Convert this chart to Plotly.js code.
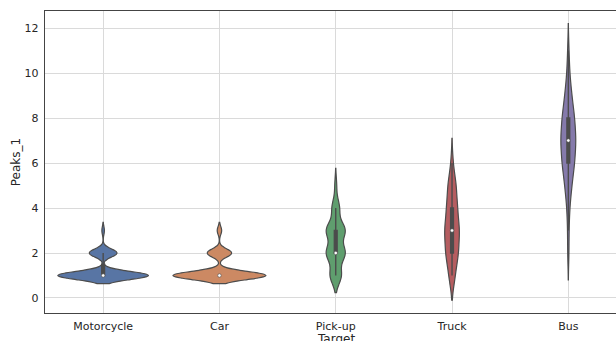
<!DOCTYPE html>
<html>
<head>
<meta charset="utf-8">
<script src="https://cdn.plot.ly/plotly-3.0.1.min.js"></script>
<style>html,body{margin:0;padding:0;background:#fff;}#chart{width:616px;height:341px;}</style>
</head>
<body>
<div id="chart"></div>
<script>
// ---- data (sample values) ----
const categories = ["Motorcycle", "Car", "Pick-up", "Truck", "Bus"];
const motorcycle = [1,1,1,1,1,1,1,1,1,1,1,1,1,1,1,1,1,1,1,1,1,1,1,1,1,1,1,1,1,1,1,1,1,1,1,1,
                    2,2,2,2,2,2,2,2,2,2,2, 3];
const car = [1,1,1,1,1,1,1,1,1,1,1,1,1,1,1,1,1,1,1,1,1,1,1,1,1,1,1,1,1,1,1,1,1,1,1,1,1,1,1,1,1,1,
             2,2,2,2,2,2,2,2,2,2,2, 3,3];
const pickup = [1,1,1,1,1,1, 2,2,2,2,2,2,2,2,2,2, 3,3,3,3,3,3,3,3,3,3, 4,4,4,4, 5];
const truck = [1,1,1, 2,2,2,2,2,2, 3,3,3,3,3,3,3, 4,4,4,4,4, 5,5,5,5, 6];
const bus = [2, 3, 4,4, 5,5,5,5,5, 6,6,6,6,6,6,6,6,6, 7,7,7,7,7,7,7,7,7,7,7,
             8,8,8,8,8,8,8,8,8, 9,9,9,9,9, 10,10, 11];
const seriesValues = [motorcycle, car, pickup, truck, bus];
const bandwidths = [0.18, 0.18, 0.38, 0.55, 0.6];
const xTitle = "Target";
const yTitle = "Peaks_1";

// ---- styles ----
const fillColors = ["#5875a4", "#cc8963", "#5f9e6e", "#b55d60", "#857aab"];
const violinWidths = [0.78, 0.80, 0.165, 0.126, 0.128];
const gray = "#4c4c4c";
const W = 616, H = 341;
const margin = {l: 45, r: 0, t: 11, b: 28};
const xRange = [-0.5, 4.41];
const pxPerCat = (W - margin.l - margin.r) / (xRange[1] - xRange[0]);

function median(arr) {
  const s = arr.slice().sort((a, b) => a - b);
  const n = s.length;
  return n % 2 ? s[(n - 1) / 2] : (s[n / 2 - 1] + s[n / 2]) / 2;
}

const traces = categories.map((cat, i) => ({
  type: "violin",
  x: seriesValues[i].map(() => cat),
  y: seriesValues[i],
  name: cat,
  bandwidth: bandwidths[i],
  spanmode: "soft",
  width: violinWidths[i],
  points: false,
  fillcolor: fillColors[i],
  line: {color: gray, width: 1.2},
  opacity: 1,
  box: {visible: true, width: 2.8 / (violinWidths[i] * pxPerCat), fillcolor: gray,
        line: {color: gray, width: 1.4}},
  meanline: {visible: false},
  hoverinfo: "skip",
  showlegend: false
}));

traces.push({
  type: "scatter",
  mode: "markers",
  x: categories,
  y: seriesValues.map(median),
  marker: {color: "#ffffff", size: 3.5, line: {color: gray, width: 0.6}},
  hoverinfo: "skip",
  showlegend: false
});

const tickFont = {family: "DejaVu Sans", size: 11, color: "#262626"};
const layout = {
  width: W, height: H,
  margin: margin,
  paper_bgcolor: "#ffffff",
  plot_bgcolor: "#ffffff",
  violinmode: "overlay",
  showlegend: false,
  xaxis: {
    type: "category",
    categoryorder: "array",
    categoryarray: categories,
    range: xRange,
    showgrid: true, gridcolor: "#dadada", gridwidth: 1,
    showline: true, linecolor: "#444444", linewidth: 1.2, mirror: true,
    ticks: "outside", ticklen: 3, tickcolor: "rgba(0,0,0,0)",
    tickfont: tickFont,
    zeroline: false, fixedrange: true
  },
  yaxis: {
    range: [-0.667, 12.756],
    tick0: 0, dtick: 2,
    showgrid: true, gridcolor: "#dadada", gridwidth: 1,
    showline: true, linecolor: "#444444", linewidth: 1.2, mirror: false,
    ticks: "outside", ticklen: 3, tickcolor: "rgba(0,0,0,0)",
    tickfont: tickFont,
    title: {text: yTitle, font: {family: "DejaVu Sans", size: 12, color: "#262626"}, standoff: 1},
    zeroline: false, fixedrange: true
  },
  annotations: [{
    text: xTitle, xref: "x", x: 2, yref: "paper", y: 0,
    yanchor: "top", xanchor: "center", yshift: -17, showarrow: false,
    font: {family: "DejaVu Sans", size: 12, color: "#262626"}
  }],
  font: {family: "DejaVu Sans", color: "#262626"}
};

Plotly.newPlot("chart", traces, layout, {staticPlot: true, displayModeBar: false});
</script>
</body>
</html>
